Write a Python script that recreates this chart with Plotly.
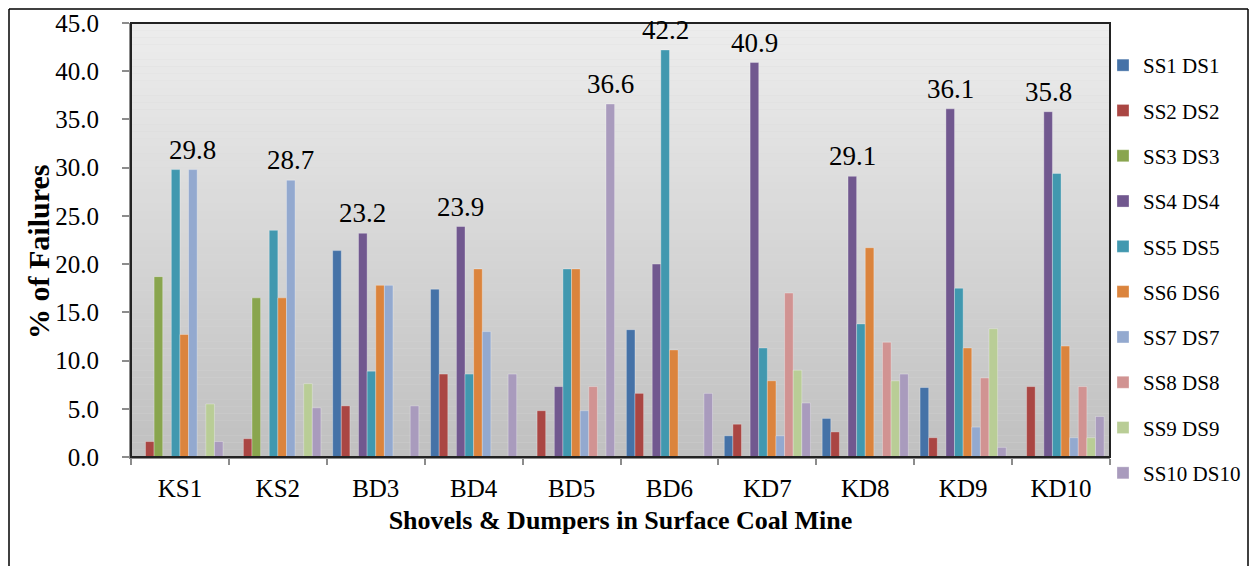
import plotly.graph_objects as go

categories = ["KS1", "KS2", "BD3", "BD4", "BD5", "BD6", "KD7", "KD8", "KD9", "KD10"]
series_names = ["SS1 DS1", "SS2 DS2", "SS3 DS3", "SS4 DS4", "SS5 DS5",
                "SS6 DS6", "SS7 DS7", "SS8 DS8", "SS9 DS9", "SS10 DS10"]
ss1 = [0, 0, 21.4, 17.4, 0, 13.2, 2.2, 4.0, 7.2, 0]
ss2 = [1.6, 1.9, 5.3, 8.6, 4.8, 6.6, 3.4, 2.6, 2.0, 7.3]
ss3 = [18.7, 16.5, 0, 0, 0, 0, 0, 0, 0, 0]
ss4 = [0, 0, 23.2, 23.9, 7.3, 20.0, 40.9, 29.1, 36.1, 35.8]
ss5 = [29.8, 23.5, 8.9, 8.6, 19.5, 42.2, 11.3, 13.8, 17.5, 29.4]
ss6 = [12.7, 16.5, 17.8, 19.5, 19.5, 11.1, 7.9, 21.7, 11.3, 11.5]
ss7 = [29.8, 28.7, 17.8, 13.0, 4.8, 0, 2.2, 0, 3.1, 2.0]
ss8 = [0, 0, 0, 0, 7.3, 0, 17.0, 11.9, 8.2, 7.3]
ss9 = [5.5, 7.6, 0, 0, 0, 0, 9.0, 7.9, 13.3, 2.0]
ss10 = [1.6, 5.1, 5.3, 8.6, 36.6, 6.6, 5.6, 8.6, 1.0, 4.2]
series_values = [ss1, ss2, ss3, ss4, ss5, ss6, ss7, ss8, ss9, ss10]
y_ticks = [0, 5, 10, 15, 20, 25, 30, 35, 40, 45]

colors = ["#4572A7", "#AA4643", "#89A54E", "#71588F", "#4198AF",
          "#DB843D", "#93A9CF", "#D19392", "#B9CD96", "#A99BBD"]

FONT = "Liberation Serif"

fig = go.Figure()
for i, (name, vals) in enumerate(zip(series_names, series_values)):
    fig.add_trace(go.Bar(
        x=categories, y=vals, name=name, marker_color=colors[i],
        marker_line=dict(width=0.6, color="rgba(255,255,255,0.5)"),
        legendgroup=name,
    ))

# the page body has an 8px margin on every side, so the figure is 16px smaller
W, H = 1241, 558
L, R, T, B = 123, 139, 15, 109
plot_w = W - L - R
ph = H - T - B
bargap = 0.12
bar_px = plot_w / len(categories) * (1 - bargap) / len(series_values)
annotations = []
for ci, cat in enumerate(categories):
    vals = [s[ci] for s in series_values]
    m = max(vals)
    si = max(k for k, v in enumerate(vals) if v == m)
    annotations.append(dict(
        x=cat, y=m, xref="x", yref="y", text=f"{m:.1f}", showarrow=False,
        xshift=(si - 4.5) * bar_px, yshift=3, yanchor="bottom",
        font=dict(family=FONT, size=27, color="black"),
    ))
annotations.append(dict(
    x=(30 - L) / plot_w, y=(H - B - 244) / ph, xref="paper", yref="paper",
    text="<b>% of Failures</b>", textangle=-90, showarrow=False,
    xanchor="center", yanchor="middle",
    font=dict(family=FONT, size=30, color="black"),
))

shapes = []
n = 60
top_c = (237, 237, 237)
bot_c = (192, 192, 192)
for k in range(n):
    f = k / (n - 1)
    c = tuple(round(top_c[j] + (bot_c[j] - top_c[j]) * f) for j in range(3))
    shapes.append(dict(type="rect", xref="x domain", yref="y domain",
                       x0=0, x1=1, y0=1 - (k + 1) / n, y1=1 - k / n,
                       fillcolor=f"rgb{c}", line_width=0, layer="below"))
shapes.append(dict(type="rect", xref="x domain", yref="y domain",
                   x0=0, x1=1, y0=0, y1=1, line=dict(color="#222", width=2),
                   fillcolor="rgba(0,0,0,0)", layer="above"))
# outer frame: top, left and right edges (bottom lies beyond the picture)
fx0, fx1 = (1 - L) / plot_w, (1240 - L) / plot_w
fy_top, fy_bot = (H - B - 1) / ph, (H - B - 600) / ph
for x0, y0, x1, y1 in [(fx0, fy_top, fx1, fy_top), (fx0, fy_top, fx0, fy_bot),
                       (fx1, fy_top, fx1, fy_bot)]:
    shapes.append(dict(type="line", xref="paper", yref="paper",
                       x0=x0, y0=y0, x1=x1, y1=y1,
                       line=dict(color="black", width=1.5), layer="below"))

fig.update_layout(
    width=W, height=H,
    margin=dict(l=L, r=R, t=T, b=B, autoexpand=False),
    paper_bgcolor="white", plot_bgcolor="#d8d8d8",
    barmode="group", bargap=bargap, bargroupgap=0,
    font=dict(family=FONT, color="black"),
    showlegend=True,
    legend=dict(x=(1095 - L) / plot_w, xanchor="left",
                y=(H - B - 37) / ph, yanchor="top",
                font=dict(family=FONT, size=21, color="black"),
                traceorder="grouped", tracegroupgap=15, maxheight=540,
                bgcolor="rgba(0,0,0,0)", itemwidth=30),
    shapes=shapes,
    annotations=annotations,
    xaxis=dict(
        type="category", showgrid=False, showline=True, linecolor="#8c8c8c",
        linewidth=2, ticks="outside", tickson="boundaries", ticklen=6,
        tickcolor="#8c8c8c", tickwidth=1.5,
        tickfont=dict(family=FONT, size=25, color="black"),
        ticklabelstandoff=8,
        title=dict(text="<b>Shovels & Dumpers in Surface Coal Mine</b>",
                   font=dict(family=FONT, size=26, color="black"), standoff=10),
    ),
    yaxis=dict(
        range=[0, 45], tickvals=y_ticks, tickformat=".1f", showgrid=False,
        zeroline=False, showline=True, linecolor="#8c8c8c", linewidth=2,
        ticks="outside", ticklen=7, tickcolor="#8c8c8c", tickwidth=1.5,
        tickfont=dict(family=FONT, size=25, color="black"),
        ticklabelstandoff=18,
    ),
)

fig.write_html("out.html")
